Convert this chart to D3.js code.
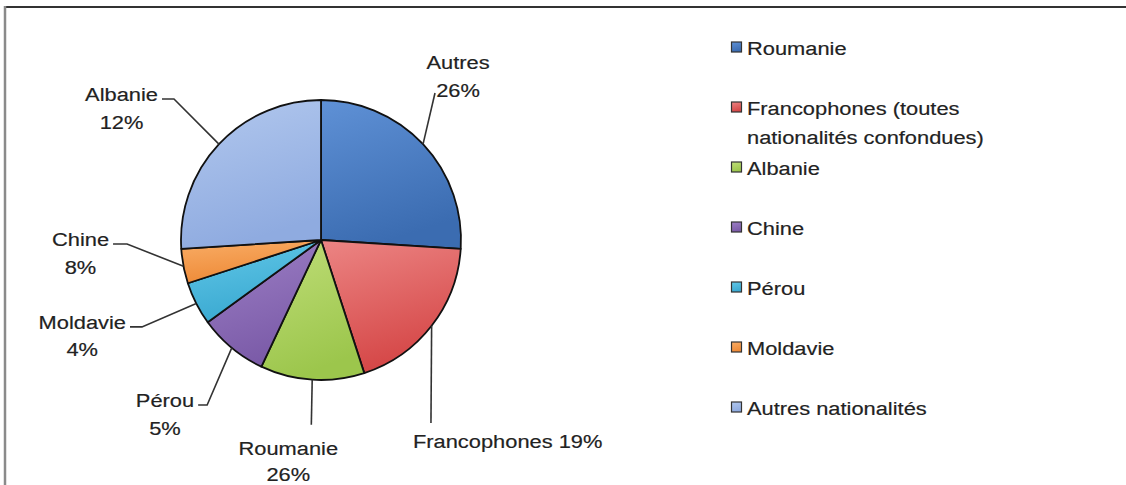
<!DOCTYPE html>
<html>
<head>
<meta charset="utf-8">
<script src="https://cdn.jsdelivr.net/npm/d3@7"></script>
<style>
  html, body { margin: 0; padding: 0; background: #fff; }
  svg { display: block; }
  text { font-family: "Liberation Sans", Arial, Helvetica, sans-serif; font-size: 19px; fill: #222; stroke: #222; stroke-width: 0.18px; }
</style>
</head>
<body>
<svg id="chart" width="1126" height="485"></svg>
<script>
// ---- data ----
const categories = ["Roumanie", "Francophones (toutes nationalités confondues)", "Albanie", "Chine", "Pérou", "Moldavie", "Autres nationalités"];
const values = [26, 19, 12, 8, 5, 4, 26];
// labels as printed next to each slice (slice order, clockwise from 12 o'clock)
const sliceLabels = [["Autres", "26%"], ["Francophones 19%"], ["Roumanie", "26%"], ["Pérou", "5%"], ["Moldavie", "4%"], ["Chine", "8%"], ["Albanie", "12%"]];

// ---- styles ----
const colorTop = ["#5f91d6", "#ec8584", "#c0de79", "#9d80c6", "#62c8e8", "#f9ad66", "#b2c8ee"];
const colorBot = ["#3b6cb1", "#d54747", "#9cc64c", "#7b5ba8", "#3aa9d1", "#ee8a37", "#8fabe0"];

// ---- layout ----
const W = 1126, H = 485;
const cx = 321, cy = 240, R = 140;
const textScale = 1.15;
const labelLayout = [
  { a: 37.8, r: 186, tick: 0, mode: "above" },
  { a: 149, r: 213.5, tick: 0, mode: "belowStart" },
  { a: 183, r: 185, tick: 0, mode: "belowMid" },
  { a: 214.6, r: 200.5, tick: -9, mode: "left" },
  { a: 244.1, r: 199, tick: -12, mode: "left" },
  { a: 268.8, r: 194, tick: -14, mode: "left" },
  { a: 313.8, r: 203.7, tick: -12, mode: "left" }
];

const svg = d3.select("#chart");

// frame
svg.append("line").attr("x1", 5).attr("y1", 7).attr("x2", W).attr("y2", 7)
  .attr("stroke", "#333").attr("stroke-width", 2);
svg.append("line").attr("x1", 5).attr("y1", 6).attr("x2", 5).attr("y2", H)
  .attr("stroke", "#8a8a8a").attr("stroke-width", 2.5);

// gradients
const defs = svg.append("defs");
values.forEach((v, i) => {
  const g = defs.append("linearGradient").attr("id", "g" + i)
    .attr("x1", 0).attr("y1", 0).attr("x2", 0.3).attr("y2", 1);
  g.append("stop").attr("offset", "0%").attr("stop-color", colorTop[i]);
  g.append("stop").attr("offset", "100%").attr("stop-color", colorBot[i]);
});

// pie
const pie = d3.pie().sort(null).value(d => d).startAngle(0).endAngle(2 * Math.PI);
const arcs = pie(values);
const arc = d3.arc().innerRadius(0).outerRadius(R);

const pg = svg.append("g").attr("transform", `translate(${cx},${cy})`);
pg.selectAll("path.slice").data(arcs).join("path")
  .attr("class", "slice")
  .attr("d", arc)
  .attr("fill", (d, i) => `url(#g${i})`)
  .attr("stroke", "#111")
  .attr("stroke-width", 1.8)
  .attr("stroke-linejoin", "round");

// helper: scaled text
function scaledText(parent, x, y, str, anchor) {
  const g = parent.append("g").attr("transform", `translate(${x},${y}) scale(${textScale},1)`);
  return g.append("text").attr("text-anchor", anchor).text(str);
}
function measure(str) {
  const t = svg.append("text").text(str);
  const w = t.node().getComputedTextLength() * textScale;
  t.remove();
  return w;
}

// pie labels with leader lines
const lg = svg.append("g");
const polar = (deg, r) => {
  const a = deg * Math.PI / 180;
  return [cx + r * Math.sin(a), cy - r * Math.cos(a)];
};
arcs.forEach((d, i) => {
  const L = labelLayout[i];
  const mid = (d.startAngle + d.endAngle) / 2 * 180 / Math.PI;
  const p0 = polar(mid, R);
  const p1 = polar(L.a, L.r);
  const p2 = [p1[0] + L.tick, p1[1]];
  lg.append("path")
    .attr("d", d3.line()([p0, p1, p2]))
    .attr("fill", "none").attr("stroke", "#333").attr("stroke-width", 1.6);
  const lines = sliceLabels[i];
  if (L.mode === "above") {
    lines.forEach((s, k) => scaledText(lg, p1[0] + 23, p1[1] - 24 + k * 28, s, "middle"));
  } else if (L.mode === "belowStart") {
    lines.forEach((s, k) => scaledText(lg, p1[0] - 18, p1[1] + 25 + k * 28, s, "start"));
  } else if (L.mode === "belowMid") {
    lines.forEach((s, k) => scaledText(lg, p1[0] - 23, p1[1] + 30 + k * 26, s, "middle"));
  } else {
    const maxW = d3.max(lines, measure);
    const xc = p2[0] - 4 - maxW / 2;
    lines.forEach((s, k) => scaledText(lg, xc, p1[1] + 2 + k * 27.5, s, "middle"));
  }
});

// legend
const legend = svg.append("g");
const legendY = d3.scalePoint().domain(d3.range(categories.length)).range([55, 415]);
const wrapW = 240;
categories.forEach((c, i) => {
  const y = legendY(i);
  legend.append("rect")
    .attr("x", 731.5).attr("y", y - 13).attr("width", 10).attr("height", 10)
    .attr("fill", `url(#g${i})`).attr("stroke", "#333").attr("stroke-width", 1.2);
  // wrap words
  const words = c.split(" ");
  const lines = [];
  let cur = "";
  words.forEach(w => {
    const test = cur ? cur + " " + w : w;
    if (cur && measure(test) > wrapW) { lines.push(cur); cur = w; }
    else cur = test;
  });
  lines.push(cur);
  lines.forEach((s, k) => scaledText(legend, 747, y + k * 29, s, "start"));
});
</script>
</body>
</html>
